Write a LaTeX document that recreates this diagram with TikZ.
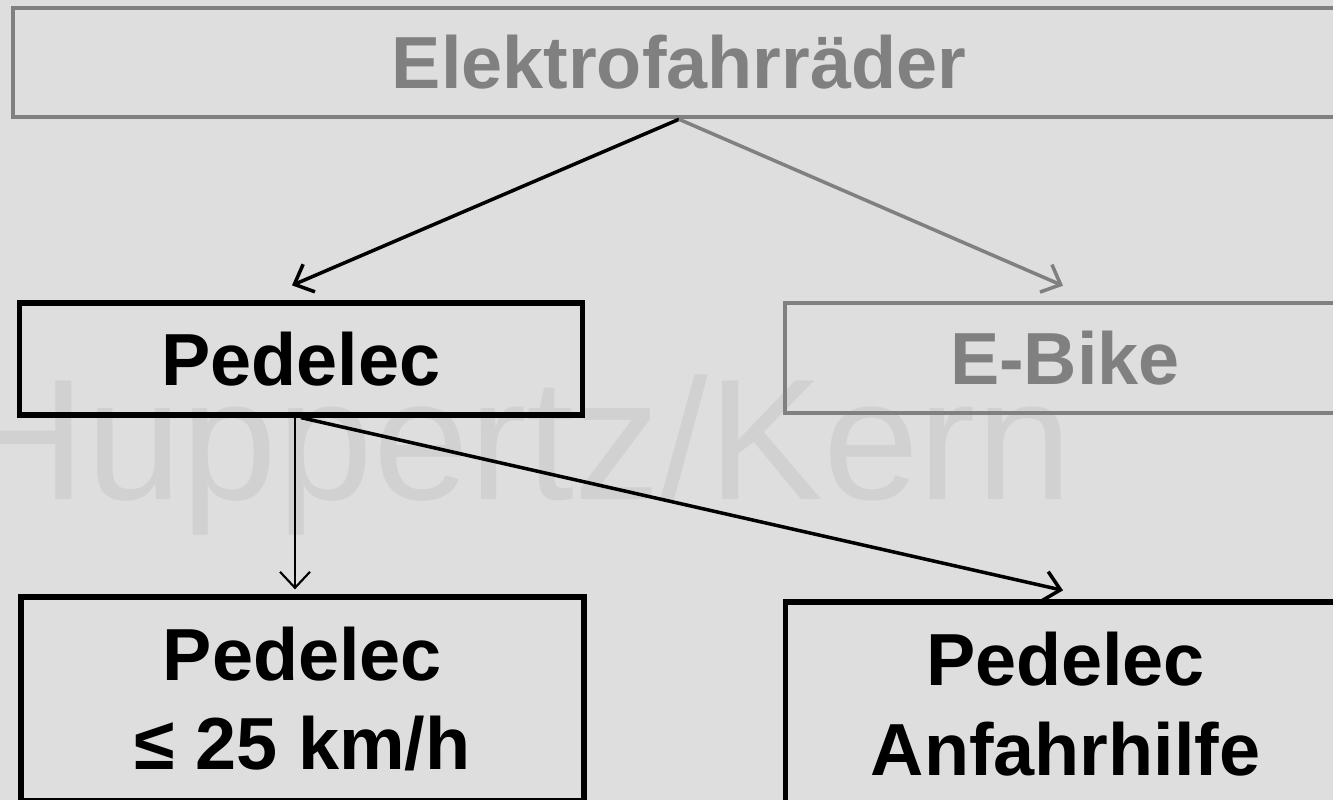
\documentclass[tikz,border=0pt]{standalone}
\usepackage{fontspec}
\setmainfont{Liberation Sans}
\usepackage{xcolor}
\usepackage{tikz}
\usetikzlibrary{arrows.meta,calc,positioning}
\definecolor{bggray}{RGB}{222,222,222}
\definecolor{markgray}{RGB}{209,209,209}
\definecolor{boxgray}{RGB}{128,128,128}
\tikzset{>={Straight Barb[length=1.6mm,width=3mm]}}
\tikzset{
  kasten/.style={draw, line width=1.5pt, inner sep=0pt, align=center,
    font=\fontsize{21}{25.5}\selectfont\bfseries},
  grau/.style={draw=boxgray, text=boxgray, line width=1.3pt},
  pfeil/.style={->, line width=1pt}
}

\begin{document}
\begin{tikzpicture}
      \useasboundingbox (0,0) rectangle (13.33,-8);
      \clip (0,0) rectangle (13.33,-8);
        \fill[bggray] (0,0) rectangle (13.33,-8);
        \node[anchor=base west, inner sep=0pt, text=markgray,
          font=\fontsize{49}{55}\selectfont] at (-0.39,-5.0) (mark) {Huppertz/Kern};
        \node[kasten, grau, minimum width=13.32cm, minimum height=1.09cm]
          at (6.79,-0.625) (elektro) {Elektrofahrräder};
        \node[kasten, minimum width=5.63cm, minimum height=1.12cm]
          at (3.01,-3.59) (pedelec) {Pedelec};
        \node[kasten, grau, minimum width=5.6cm, minimum height=1.1cm]
          at (10.65,-3.58) (ebike) {E-Bike};
        \node[kasten, minimum width=5.63cm, minimum height=2.04cm]
          at (3.025,-6.99) (langsam) {Pedelec\\≤ 25 km/h};
        \node[kasten, minimum width=5.6cm, minimum height=2.04cm]
          at (10.655,-7.04) (anfahr) {Pedelec\\Anfahrhilfe};
        \draw[pfeil] (elektro.south) -- ([xshift=-0.9mm,yshift=1.5mm]pedelec.north);
        \draw[pfeil, boxgray] (elektro.south) -- ([xshift=-0.2mm,yshift=1.5mm]ebike.north);
        % \draw[pfeil] (pedelec) to (langsam);
        \draw[->, line width=0.6pt] ([xshift=-0.6mm]pedelec.south) -- ([xshift=-0.75mm,yshift=0.5mm]langsam.north);
        \draw[pfeil] (pedelec.south) -- ([xshift=-0.25mm,yshift=0.9mm]anfahr.north);
      \end{tikzpicture}
\end{document}
